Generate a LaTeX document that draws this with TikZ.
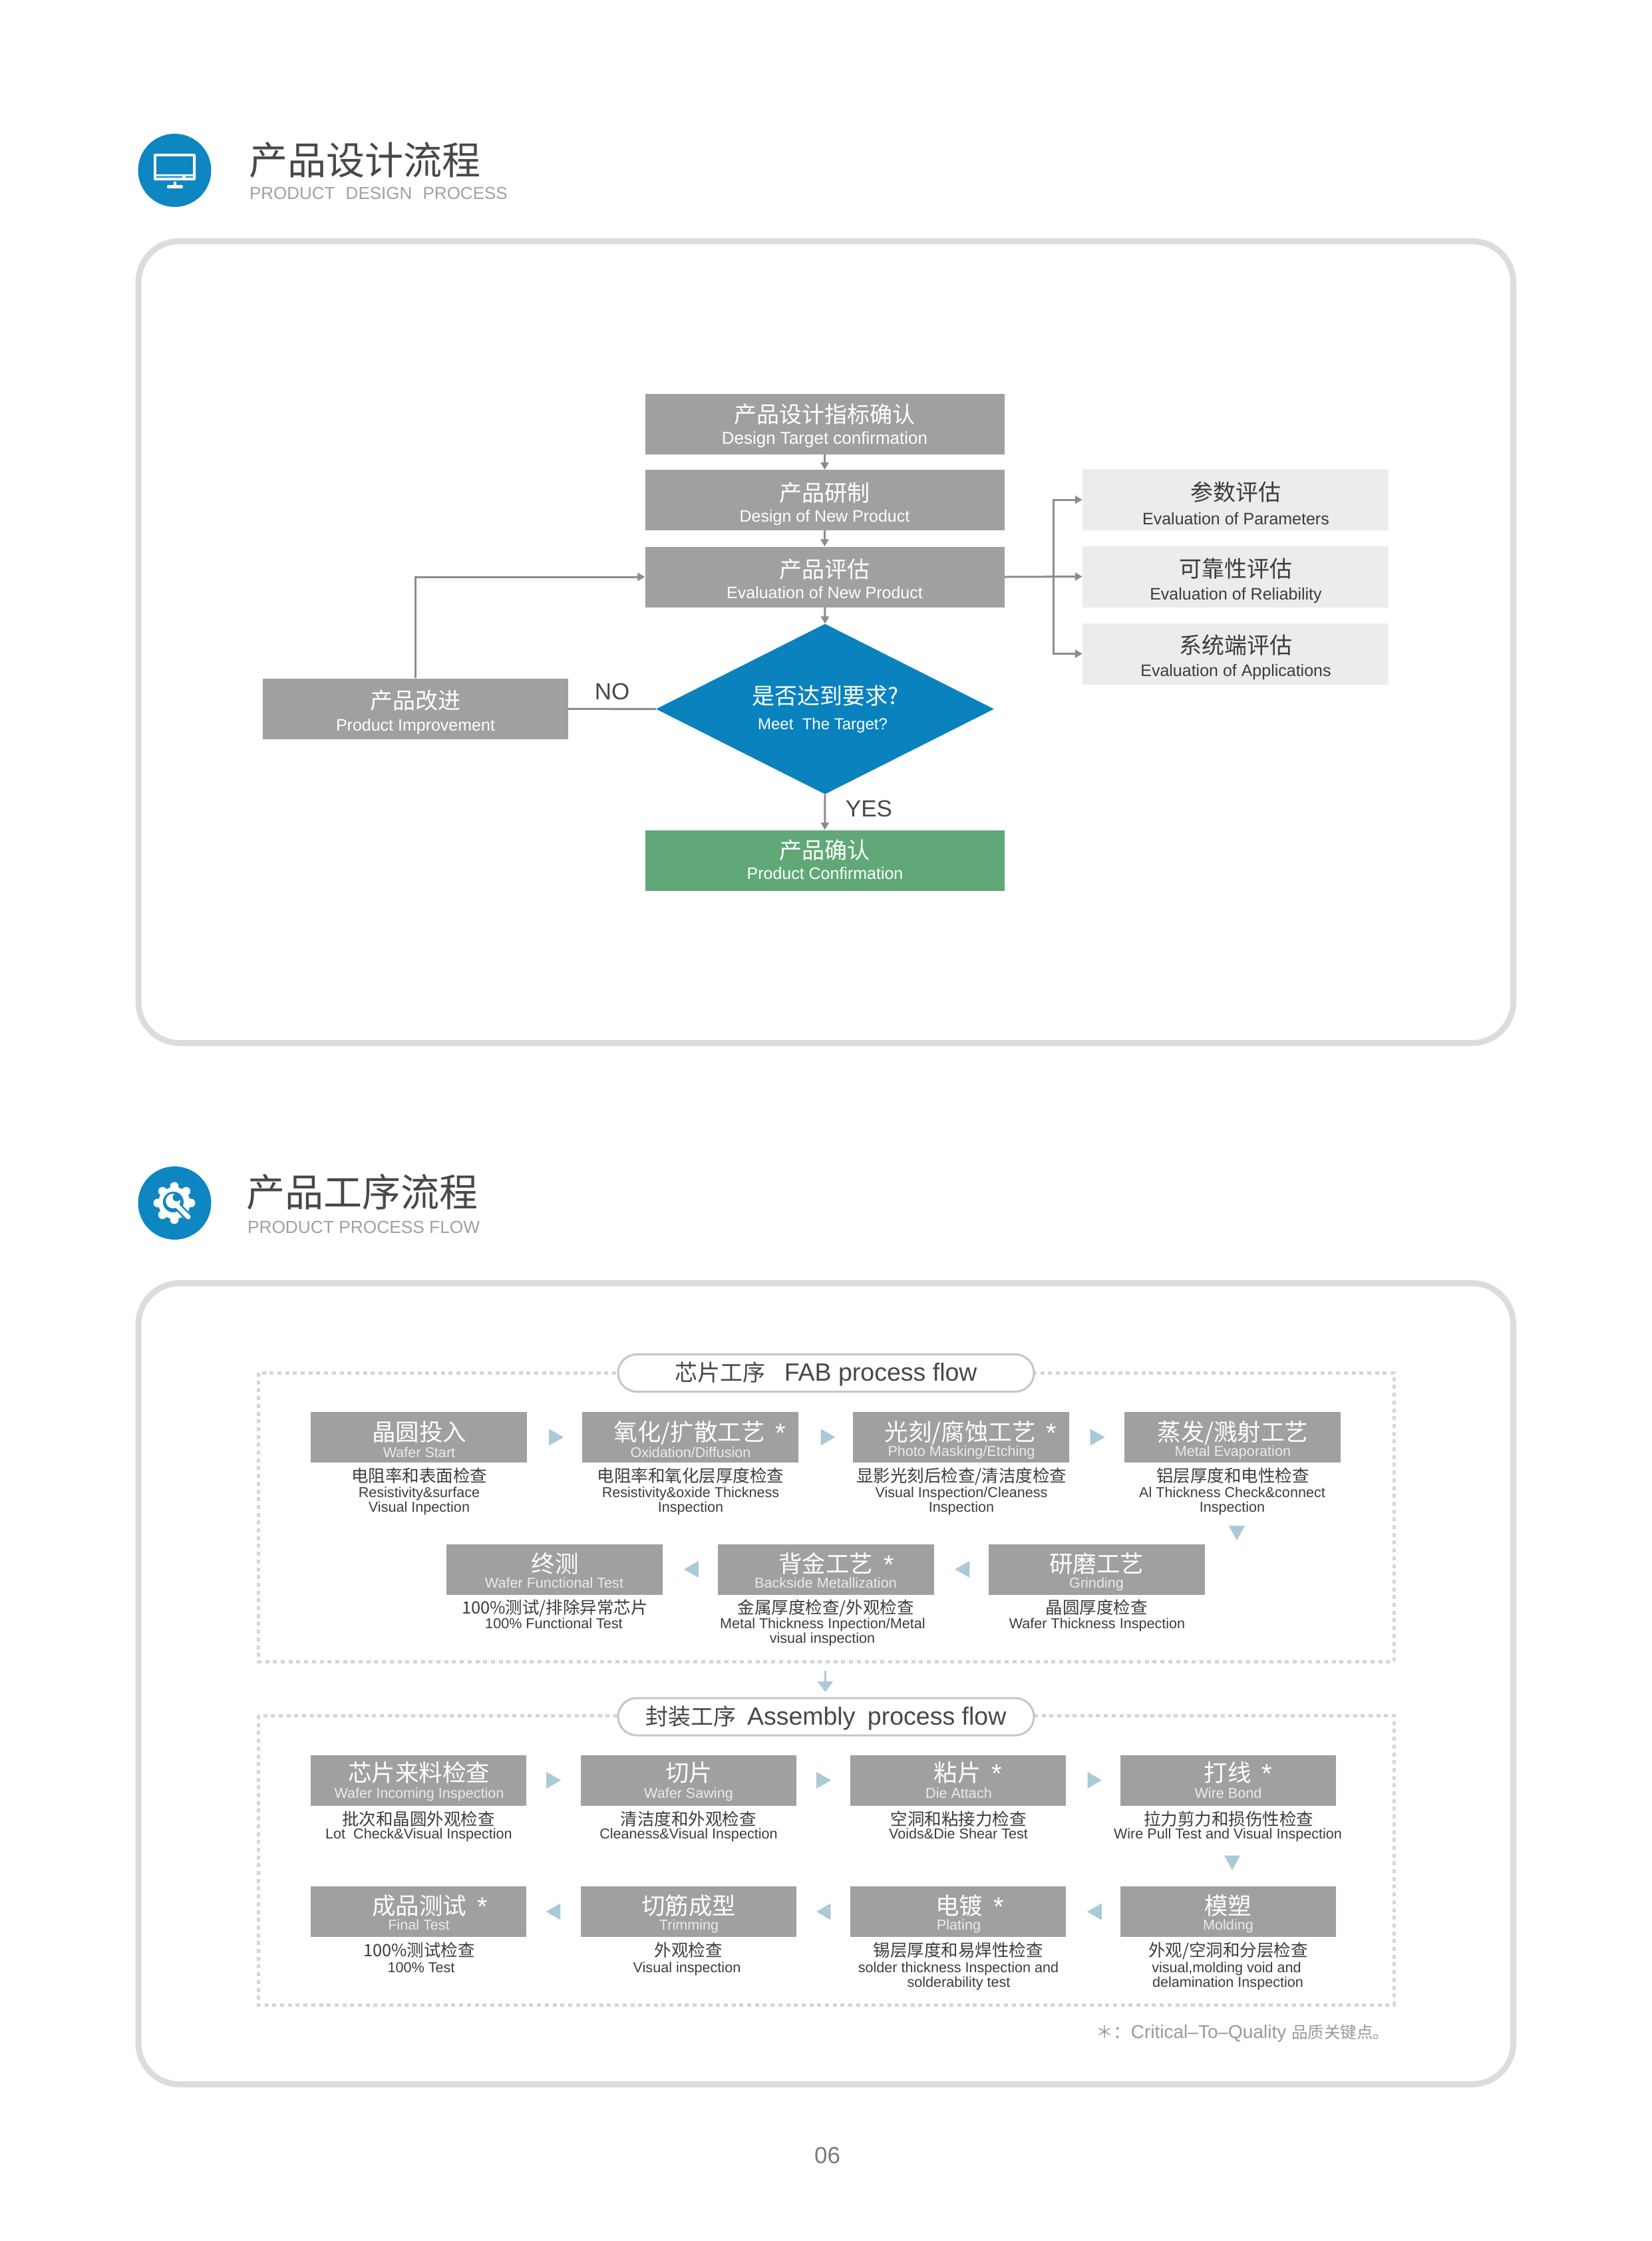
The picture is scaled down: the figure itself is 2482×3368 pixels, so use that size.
\documentclass[tikz,border=0pt]{standalone}
\usepackage{fontspec}
\usetikzlibrary{arrows.meta,shapes.geometric,calc}
\setmainfont{Liberation Sans}
\newfontfamily\cjk{Noto Sans CJK SC}
\definecolor{boxgray}{HTML}{A0A0A0}
\definecolor{lightbox}{HTML}{ECECEC}
\definecolor{okgreen}{HTML}{60A877}
\definecolor{brandblue}{HTML}{0A82BE}
\definecolor{circblue}{HTML}{0E86C1}
\definecolor{linegray}{HTML}{8C8C8C}
\definecolor{panelgray}{HTML}{DCDCDC}
\definecolor{dotgray}{HTML}{D6D6D6}
\definecolor{pillgray}{HTML}{C6C6C6}
\definecolor{flowblue}{HTML}{A9CAD6}
\definecolor{darktext}{HTML}{3C3C3C}
\definecolor{titletext}{HTML}{484848}
\definecolor{subtext}{HTML}{A0A0A0}
\definecolor{notetext}{HTML}{9A9A9A}
\definecolor{pagetext}{HTML}{7A7A7A}
\tikzset{
  x=1pt,y=-1pt,
  panel/.style={draw=panelgray,line width=9pt,rounded corners=62pt},
  dotframe/.style={draw=dotgray,line width=5pt,dash pattern=on 6pt off 5.7pt},
  pill/.style={rectangle,draw=pillgray,line width=3pt,fill=white,rounded corners=28pt,minimum width=625pt,minimum height=56pt,inner sep=0pt,text=titletext,text height=24pt,text depth=0pt,font=\fontsize{37.5}{40}\selectfont},
  flowbox/.style={rectangle,fill=boxgray,inner sep=0pt},
  mainbox/.style={flowbox,minimum width=540pt,minimum height=91pt},
  evalbox/.style={rectangle,fill=lightbox,inner sep=0pt,minimum width=460pt,minimum height=92pt},
  procbox/.style={flowbox,minimum height=76pt},
  fabbox/.style={procbox,minimum width=325pt},
  asmbox/.style={procbox,minimum width=324pt},
  flowtri/.style={fill=flowblue},
  conn/.style={draw=linegray,line width=3pt},
  connarrow/.style={conn,-{Triangle[length=11pt,width=12pt]}},
  txtbase/.style={inner sep=0pt,outer sep=0pt},
  flowcn/.style={txtbase,font=\cjk\fontsize{34}{36}\selectfont,text height=26pt,text depth=0pt},
  flowen/.style={txtbase,font=\fontsize{25}{28}\selectfont,text height=16pt,text depth=0pt},
  ptitle/.style={txtbase,text=white,font=\cjk\fontsize{35.5}{38}\selectfont,text height=27pt,text depth=0pt},
  pen/.style={txtbase,text=white!92!black,font=\fontsize{21.6}{23}\selectfont,text height=15pt,text depth=0pt},
  psub/.style={txtbase,text=darktext,font=\cjk\fontsize{25.5}{28}\selectfont,text height=20pt,text depth=0pt},
  pdetail/.style={txtbase,text=darktext,font=\fontsize{21.6}{24}\selectfont,text height=13pt,text depth=0pt},
  sectitle/.style={txtbase,anchor=west,text=titletext,font=\cjk\fontsize{58}{60}\selectfont,text height=44pt,text depth=0pt},
  secsub/.style={txtbase,anchor=west,text=subtext,font=\fontsize{26}{28}\selectfont,text height=19pt,text depth=0pt},
  bigmark/.style={txtbase,text=titletext,font=\fontsize{35}{38}\selectfont,text height=25pt,text depth=0pt},
}
\newcommand\ptit[4]{\node[ptitle] (#1) at (#2,#3) {#4};}
\newcommand\peng[4]{\node[pen] (#1) at (#2,#3) {#4};}
\newcommand\psubc[4]{\node[psub] (#1) at (#2,#3) {#4};}
\newcommand\pdet[4]{\node[pdetail] (#1) at (#2,#3) {#4};}
\newcommand\pstar{\hspace{16pt}\raisebox{-2pt}{\rmfamily\fontsize{40}{40}\selectfont *}}
\newcommand\hflow[3]{\fill[flowtri] ($(#1)+(#2,-12.5)$) -- ($(#1)+(#3,0)$) -- ($(#1)+(#2,12.5)$) -- cycle;}
\newcommand\vflow[4]{\fill[flowtri] ($(#1)+(#2-12,#3)$) -- ($(#1)+(#2,#4)$) -- ($(#1)+(#2+12,#3)$) -- cycle;}
\begin{document}
\begin{tikzpicture}
\fill[white] (0,0) rectangle (2482,3368);
\useasboundingbox (0,0) rectangle (2482,3368);

% ---- section heading 1 ----
\fill[circblue] (262.5,256) circle (55);
\fill[white,rounded corners=2pt] (231,231) rectangle (294,271);
\fill[circblue] (235,235) rectangle (290,262);
\fill[circblue] (235,264.5) rectangle (274,267);
\fill[circblue] (279,264.5) rectangle (290,267);
\fill[white] (260.5,273) rectangle (264.5,279);
\fill[white,rounded corners=1.5pt] (251,278) rectangle (275,283);
\node[sectitle] (t1) at (374,240) {产品设计流程};
\node[secsub] (s1) at (375,290) {PRODUCT\hspace{9pt} DESIGN\hspace{9pt} PROCESS};

% ---- panel 1 ----
\draw[panel] (208,362.5) rectangle (2274.5,1567.5);

\node[mainbox] (b1) at (1239.5,637.2) {};
\node[mainbox] (b2) at (1239.5,751.6) {};
\node[mainbox] (b3) at (1239.5,867) {};
\node[evalbox] (r1) at (1857,751) {};
\node[evalbox] (r2) at (1857,866.5) {};
\node[evalbox] (r3) at (1857,982.5) {};
\node[diamond,fill=brandblue,inner sep=0pt,aspect=1.98,minimum width=508pt,minimum height=256pt] (dia) at (1240,1065.6) {};
\node[flowbox,minimum width=459pt,minimum height=91pt] (lb) at (624.5,1065) {};
\node[flowbox,fill=okgreen,minimum width=540pt,minimum height=91pt] (ok) at (1239.5,1293) {};
\coordinate (bus) at (1583,866.5);

\node[flowcn,text=white] (b1c) at (1239.5,622.3) {产品设计指标确认};
\node[flowen,text=white,font=\fontsize{26}{28}\selectfont] (b1e) at (1239.5,659.6) {Design Target confirmation};
\node[flowcn,text=white] (b2c) at (1239.5,740.2) {产品研制};
\node[flowen,text=white] (b2e) at (1239.5,776.5) {Design of New Product};
\node[flowcn,text=white] (b3c) at (1239.5,855) {产品评估};
\node[flowen,text=white] (b3e) at (1239.5,891) {Evaluation of New Product};
\node[flowcn,text=darktext] (r1c) at (1857.5,739) {参数评估};
\node[flowen,text=darktext] (r1e) at (1857.5,780) {Evaluation of Parameters};
\node[flowcn,text=darktext] (r2c) at (1857.5,854.5) {可靠性评估};
\node[flowen,text=darktext] (r2e) at (1857.5,893.5) {Evaluation of Reliability};
\node[flowcn,text=darktext] (r3c) at (1857.5,969.5) {系统端评估};
\node[flowen,text=darktext] (r3e) at (1857.5,1008) {Evaluation of Applications};
\node[flowcn,text=white] (dc) at (1240.5,1045) {是否达到要求?};
\node[flowen,text=white,font=\fontsize{24}{26}\selectfont] (de) at (1236.5,1088.5) {Meet\ \ The Target?};
\node[flowcn,text=white] (lc) at (624.5,1052.5) {产品改进};
\node[flowen,text=white] (le) at (624.5,1090) {Product Improvement};
\node[flowcn,text=white] (okc) at (1239.5,1277.5) {产品确认};
\node[flowen,text=white] (oke) at (1240,1313) {Product Confirmation};
\node[bigmark] (no) at (920,1038.7) {NO};
\node[bigmark] (yes) at (1306,1214.8) {YES};

\draw[connarrow] (b1) -- (b2);
\draw[connarrow] (b2) -- (b3);
\draw[connarrow] (b3) -- (dia.north);
\draw[connarrow] (dia.south) -- (ok);
\draw[conn] (lb) -- (dia.west);
\draw[connarrow] (lb.north) |- (b3.west);
\draw[connarrow] (b3.east) -- (r2.west);
\draw[connarrow] (bus) |- (r1.west);
\draw[connarrow] (bus) |- (r3.west);

% ---- section heading 2 ----
\fill[circblue] (262.5,1808) circle (55);
\foreach \a in {0,45,...,315} \fill[white] (262,1808) ++(\a:25) circle (6.5);
\fill[white] (262,1808) circle (24);
\fill[circblue] (260.5,1806.5) circle (15.5);
\draw[circblue,line width=12pt] (264,1810) -- (283,1829);
\fill[white] (260,1805) circle (11);
\fill[circblue] (265.5,1799.5) circle (6);
\draw[white,line width=7pt,line cap=round] (264,1810) -- (283,1829);
\node[sectitle] (t2) at (370,1791) {产品工序流程};
\node[secsub,font=\fontsize{26.3}{28}\selectfont] (s2) at (372,1844) {PRODUCT PROCESS FLOW};

% ---- panel 2 ----
\draw[panel] (208,1928.5) rectangle (2274.5,3132.5);

% ---- FAB frame ----
\draw[dotframe] (388,2063) rectangle (2095,2497);
\node[pill] (fabp) at (1241.5,2063.5) {{\cjk\fontsize{34}{36}\selectfont 芯片工序}\hspace{18pt} FAB process flow};

\node[fabbox] (f1) at (629.5,2160) {};
\node[fabbox] (f2) at (1037,2160) {};
\node[fabbox] (f3) at (1444.5,2160) {};
\node[fabbox] (f4) at (1852.5,2160) {};
\node[fabbox] (f5) at (1648,2358.5) {};
\node[fabbox] (f6) at (1241,2358.5) {};
\node[fabbox] (f7) at (833.5,2358.5) {};

\ptit{f1t}{630}{2152}{晶圆投入}
\peng{f1e}{630}{2183}{Wafer Start}
\psubc{f1c}{630}{2217}{电阻率和表面检查}
\pdet{f1a}{630}{2244}{Resistivity\&surface}
\pdet{f1b}{630}{2266}{Visual Inpection}

\ptit{f2t}{1052}{2152}{氧化/扩散工艺\pstar}
\peng{f2e}{1038}{2183}{Oxidation/Diffusion}
\psubc{f2c}{1038}{2217}{电阻率和氧化层厚度检查}
\pdet{f2a}{1038}{2244}{Resistivity\&oxide Thickness}
\pdet{f2b}{1038}{2266}{Inspection}

\ptit{f3t}{1459}{2152}{光刻/腐蚀工艺\pstar}
\peng{f3e}{1445}{2181}{Photo Masking/Etching}
\psubc{f3c}{1445}{2217}{显影光刻后检查/清洁度检查}
\pdet{f3a}{1445}{2244}{Visual Inspection/Cleaness}
\pdet{f3b}{1445}{2266}{Inspection}

\ptit{f4t}{1853}{2152}{蒸发/溅射工艺}
\peng{f4e}{1853}{2181}{Metal Evaporation}
\psubc{f4c}{1853}{2217}{铝层厚度和电性检查}
\pdet{f4a}{1852}{2244}{Al Thickness Check\&connect}
\pdet{f4b}{1852}{2266}{Inspection}

\ptit{f5t}{1648}{2350}{研磨工艺}
\peng{f5e}{1648}{2379}{Grinding}
\psubc{f5c}{1648}{2415}{晶圆厚度检查}
\pdet{f5a}{1649}{2441}{Wafer Thickness Inspection}

\ptit{f6t}{1257}{2350}{背金工艺\pstar}
\peng{f6e}{1241}{2379}{Backside Metallization}
\psubc{f6c}{1241}{2415}{金属厚度检查/外观检查}
\pdet{f6a}{1236.5}{2441}{Metal Thickness Inpection/Metal}
\pdet{f6b}{1236}{2463}{visual inspection}

\ptit{f7t}{834}{2350}{终测}
\peng{f7e}{833}{2379}{Wafer Functional Test}
\psubc{f7c}{834}{2415}{100\%测试/排除异常芯片}
\pdet{f7a}{832.5}{2441}{100\% Functional Test}

\hflow{f1.east}{33}{55}
\hflow{f2.east}{34}{55.5}
\hflow{f3.east}{31.5}{53.5}
\vflow{f4.south}{6.5}{95}{117}
\hflow{f5.west}{-28}{-50}
\hflow{f6.west}{-28.5}{-50.5}

% ---- assembly frame ----
\draw[dotframe] (388,2578) rectangle (2095,3013);
\node[pill] (asmp) at (1241.5,2580) {{\cjk\fontsize{34}{36}\selectfont 封装工序}\hspace{6pt} Assembly\hspace{8pt} process flow};
\coordinate (link) at (1240.5,2511);
\draw[draw=flowblue,line width=2.5pt,shorten >=7.5pt,-{Triangle[length=16pt,width=23pt]}] (link) -- (asmp.north -| link);

\node[asmbox] (a1) at (629,2675.5) {};
\node[asmbox] (a2) at (1034.5,2675.5) {};
\node[asmbox] (a3) at (1439.5,2675.5) {};
\node[asmbox] (a4) at (1846,2675.5) {};
\node[asmbox] (a5) at (1846,2873) {};
\node[asmbox] (a6) at (1439.5,2873) {};
\node[asmbox] (a7) at (1034.5,2873) {};
\node[asmbox] (a8) at (629,2873) {};

\ptit{a1t}{629.5}{2664}{芯片来料检查}
\peng{a1e}{630}{2695}{Wafer Incoming Inspection}
\psubc{a1c}{629}{2733}{批次和晶圆外观检查}
\pdet{a1a}{629.5}{2757}{Lot\ \ Check\&Visual Inspection}

\ptit{a2t}{1035.5}{2664}{切片}
\peng{a2e}{1035}{2695}{Wafer Sawing}
\psubc{a2c}{1034.5}{2733}{清洁度和外观检查}
\pdet{a2a}{1035}{2757}{Cleaness\&Visual Inspection}

\ptit{a3t}{1455}{2664}{粘片\pstar}
\peng{a3e}{1441}{2695}{Die Attach}
\psubc{a3c}{1440.5}{2733}{空洞和粘接力检查}
\pdet{a3a}{1440.5}{2757}{Voids\&Die Shear Test}

\ptit{a4t}{1861}{2664}{打线\pstar}
\peng{a4e}{1846}{2695}{Wire Bond}
\psubc{a4c}{1846.5}{2733}{拉力剪力和损伤性检查}
\pdet{a4a}{1845.5}{2757}{Wire Pull Test and Visual Inspection}

\ptit{a5t}{1845.5}{2864}{模塑}
\peng{a5e}{1846}{2893}{Molding}
\psubc{a5c}{1846}{2930}{外观/空洞和分层检查}
\pdet{a5a}{1843.5}{2958}{visual,molding void and}
\pdet{a5b}{1845.5}{2980}{delamination Inspection}

\ptit{a6t}{1457.5}{2864}{电镀\pstar}
\peng{a6e}{1441}{2893}{Plating}
\psubc{a6c}{1440}{2930}{锡层厚度和易焊性检查}
\pdet{a6a}{1440.5}{2958}{solder thickness Inspection and}
\pdet{a6b}{1441}{2980}{solderability test}

\ptit{a7t}{1035}{2864}{切筋成型}
\peng{a7e}{1035.5}{2893}{Trimming}
\psubc{a7c}{1034.5}{2930}{外观检查}
\pdet{a7a}{1032.5}{2958}{Visual inspection}

\ptit{a8t}{646}{2864}{成品测试\pstar}
\peng{a8e}{629.5}{2893}{Final Test}
\psubc{a8c}{630}{2930}{100\%测试检查}
\pdet{a8a}{633}{2958}{100\% Test}

\hflow{a1.east}{30}{52}
\hflow{a2.east}{30.5}{52.5}
\hflow{a3.east}{33}{54}
\vflow{a4.south}{6}{75}{97}
\hflow{a5.west}{-28}{-50}
\hflow{a6.west}{-29}{-50}
\hflow{a7.west}{-30}{-51.5}

\node[txtbase,text=notetext,font=\fontsize{28}{28}\selectfont,text height=19pt,text depth=0pt] (note) at (1868,3054) {{\cjk\fontsize{26}{28}\selectfont ＊：}Critical–To–Quality {\cjk\fontsize{24.5}{26}\selectfont 品质关键点。}};
\node[txtbase,text=pagetext,font=\fontsize{35}{38}\selectfont,text height=25pt,text depth=0pt] (page) at (1243.5,3238.5) {06};
\end{tikzpicture}
\end{document}
